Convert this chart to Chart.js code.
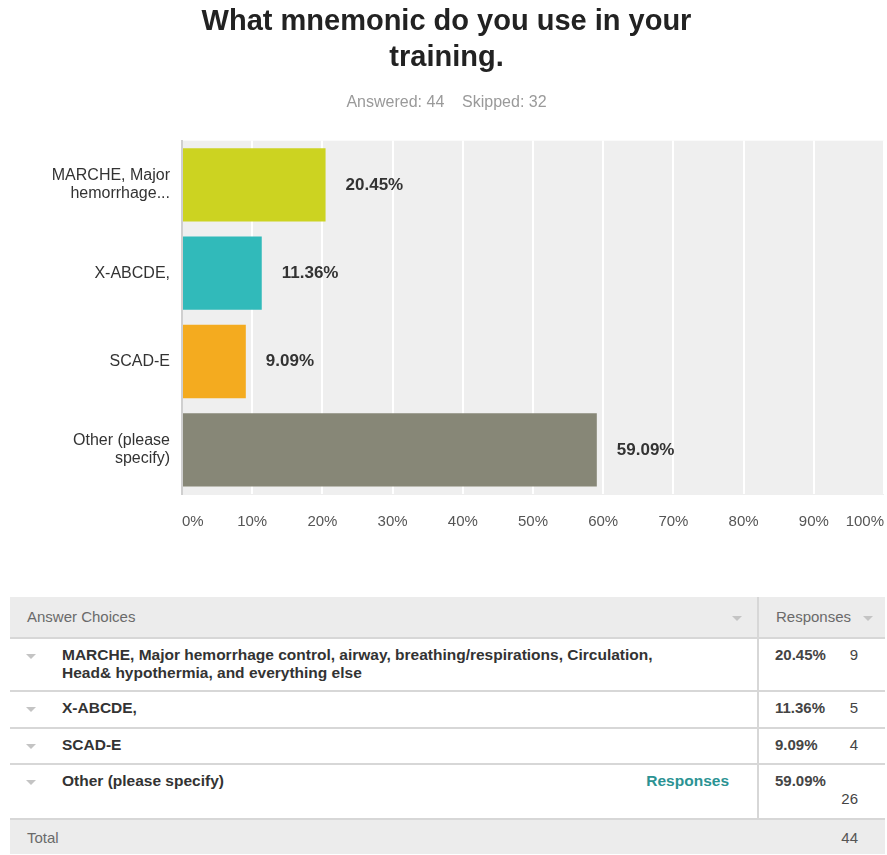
<!DOCTYPE html>
<html>
<head>
<meta charset="utf-8">
<script src="https://cdn.jsdelivr.net/npm/chart.js@4.4.1/dist/chart.umd.min.js"></script>
<style>
  html, body { margin: 0; padding: 0; background: #fff; }
  body { width: 887px; height: 855px; position: relative; overflow: hidden;
         font-family: "Liberation Sans", Arial, Helvetica, sans-serif; }
  #chartBox { position: absolute; left: 0; top: 0; width: 887px; height: 560px; }
  #summary { position: absolute; left: 10px; top: 597px; width: 875px; height: 257px; }
  .tr { position: absolute; left: 0; width: 875px; box-sizing: border-box; }
  .shade { background: #ececec; }
  .line { border-bottom: 2px solid #d7d7d7; }
  .divider { position: absolute; left: 747px; top: 0; bottom: 0; width: 2px; background: #d7d7d7; }
  .caret { position: absolute; width: 0; height: 0;
           border-left: 5px solid transparent; border-right: 5px solid transparent;
           border-top: 5px solid #c4c4c4; }
  .txt { position: absolute; white-space: nowrap; }
  .headTxt { font-size: 15px; color: #6a6a6a; }
  .choice { position: absolute; left: 52px; width: 628px; font-size: 15.5px; font-weight: bold;
            color: #333; line-height: 18px; }
  .pct { font-size: 15px; font-weight: bold; color: #444; }
  .cnt { font-size: 15px; color: #444; text-align: right; }
  .link { font-size: 15.5px; font-weight: bold; color: #2b9393; }
</style>
</head>
<body>
<div id="chartBox"><canvas id="chart" width="887" height="560"></canvas></div>
<div id="summary"></div>
<script>
// Survey question and response summary
const questionTitle = ['What mnemonic do you use in your', 'training.'];
const answeredCount = 44;
const skippedCount = 32;

// Short labels for the bar chart axis
const choiceLabels = [['MARCHE, Major', 'hemorrhage...'], 'X-ABCDE,', 'SCAD-E', ['Other (please', 'specify)']];
// Full answer text for the summary table
const choiceText = [
  'MARCHE, Major hemorrhage control, airway, breathing/respirations, Circulation, Head& hypothermia, and everything else',
  'X-ABCDE,',
  'SCAD-E',
  'Other (please specify)'
];
const responsePercents = [20.45, 11.36, 9.09, 59.09];
const responseCounts = [9, 5, 4, 26];

const barColors = ['#ccd321', '#31baba', '#f4ab1f', '#878777'];
const fontFamily = '"Liberation Sans", Arial, Helvetica, sans-serif';

// Light grey panel behind the bars
const plotBackground = {
  id: 'plotBackground',
  beforeDraw(chart) {
    const { ctx, chartArea: a } = chart;
    ctx.save();
    ctx.fillStyle = '#efefef';
    ctx.fillRect(a.left, a.top, a.right - a.left, a.bottom - a.top + 1);
    ctx.restore();
  }
};

// Percentage written to the right of each bar
const barValueLabels = {
  id: 'barValueLabels',
  afterDatasetsDraw(chart) {
    const { ctx } = chart;
    const meta = chart.getDatasetMeta(0);
    ctx.save();
    ctx.font = 'bold 17px ' + fontFamily;
    ctx.fillStyle = '#333';
    ctx.textAlign = 'left';
    ctx.textBaseline = 'middle';
    meta.data.forEach((bar, i) => {
      const v = chart.data.datasets[0].data[i];
      ctx.fillText(v.toFixed(2) + '%', bar.x + 20, bar.y);
    });
    ctx.restore();
  }
};

new Chart(document.getElementById('chart'), {
  type: 'bar',
  data: {
    labels: choiceLabels,
    datasets: [{
      data: responsePercents,
      backgroundColor: barColors,
      borderWidth: 0,
      barPercentage: 0.83,
      categoryPercentage: 1
    }]
  },
  options: {
    indexAxis: 'y',
    responsive: false,
    animation: false,
    devicePixelRatio: 1,
    layout: { padding: { left: 9, right: 3, top: 0, bottom: 10 } },
    plugins: {
      legend: { display: false },
      tooltip: { enabled: false },
      title: {
        display: true,
        text: questionTitle,
        color: '#222',
        font: { family: fontFamily, size: 29, weight: 'bold', lineHeight: 1.25 },
        padding: { top: 4, bottom: 16 }
      },
      subtitle: {
        display: true,
        text: 'Answered: ' + answeredCount + '    Skipped: ' + skippedCount,
        color: '#9a9a9a',
        font: { family: fontFamily, size: 16, lineHeight: 1.2 },
        padding: { top: 0, bottom: 29 }
      }
    },
    scales: {
      x: {
        min: 0,
        max: 100,
        ticks: {
          stepSize: 10,
          align: 'inner',
          padding: 19,
          color: '#555',
          font: { family: fontFamily, size: 15 },
          callback: (v) => v + '%'
        },
        grid: { color: '#ffffff', lineWidth: 2, drawTicks: false },
        border: { display: false },
        // end labels are aligned inside the axis, so no overhang room is needed
        afterFit(scale) { scale.paddingLeft = 0; scale.paddingRight = 0; }
      },
      y: {
        ticks: {
          padding: 12,
          color: '#333',
          font: { family: fontFamily, size: 16, lineHeight: 1.1 }
        },
        grid: { display: false, drawTicks: false },
        border: { display: true, color: '#cfcfcf', width: 2 },
        afterFit(scale) { scale.width = 173; }
      }
    }
  },
  plugins: [plotBackground, barValueLabels]
});

// Summary table below the chart
(function buildTable() {
  const box = document.getElementById('summary');
  const add = (parent, cls, style, text) => {
    const el = document.createElement('div');
    el.className = cls;
    Object.assign(el.style, style);
    if (text !== undefined) el.textContent = text;
    parent.appendChild(el);
    return el;
  };

  // header row
  const head = add(box, 'tr shade line', { top: '0px', height: '42px' });
  add(head, 'divider', {});
  add(head, 'txt headTxt', { left: '17px', top: '11px' }, 'Answer Choices');
  add(head, 'caret', { left: '722px', top: '19px' });
  add(head, 'txt headTxt', { left: '766px', top: '11px' }, 'Responses');
  add(head, 'caret', { left: '853px', top: '19px' });

  const rowTops = [42, 95, 132, 168];
  const rowHeights = [53, 37, 36, 55];
  choiceText.forEach((t, i) => {
    const row = add(box, 'tr line', { top: rowTops[i] + 'px', height: rowHeights[i] + 'px' });
    add(row, 'divider', {});
    add(row, 'caret', { left: '16px', top: '15px' });
    add(row, 'choice', { top: '7px', whiteSpace: 'normal' }, t);
    add(row, 'txt pct', { left: '765px', top: '7px' }, responsePercents[i].toFixed(2) + '%');
    const last = i === choiceText.length - 1;
    add(row, 'txt cnt', { right: '27px', top: last ? '25px' : '7px' }, String(responseCounts[i]));
    if (last) add(row, 'txt link', { right: '156px', top: '7px' }, 'Responses');
  });

  // total row
  const total = responseCounts.reduce((a, b) => a + b, 0);
  const foot = add(box, 'tr shade', { top: '223px', height: '34px' });
  add(foot, 'txt headTxt', { left: '17px', top: '9px' }, 'Total');
  add(foot, 'txt cnt', { right: '27px', top: '9px', color: '#555' }, String(total));
})();
</script>
</body>
</html>
